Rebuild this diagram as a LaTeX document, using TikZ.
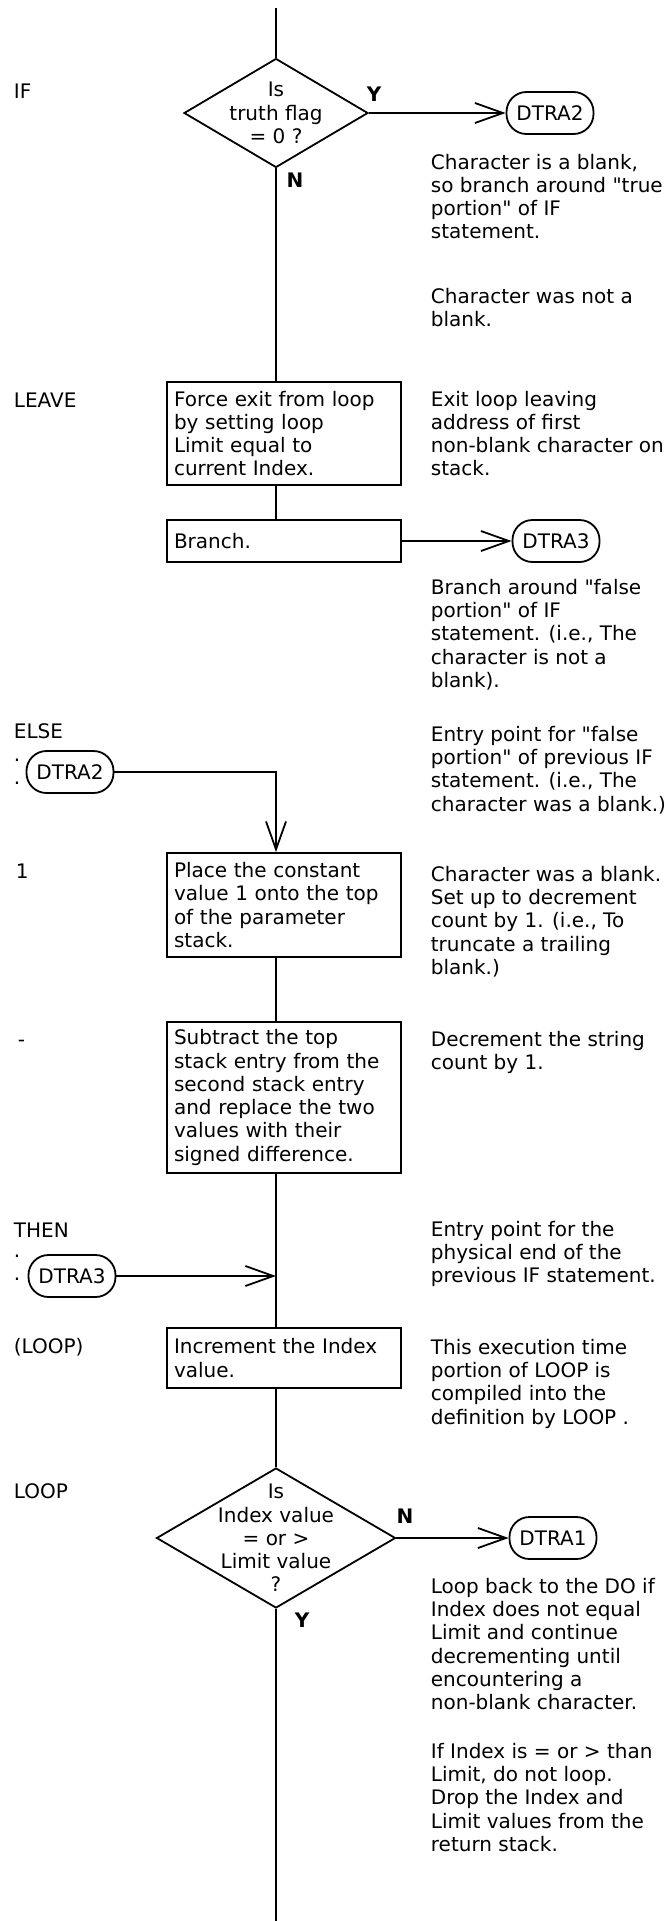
\documentclass[tikz,border=0pt]{standalone}
\usepackage{fontspec}
\setmainfont{DejaVu Sans}
\usetikzlibrary{positioning,shapes.geometric,arrows.meta}
\newcommand{\dq}{\textquotedbl{}}

\begin{document}
\begin{tikzpicture}[x=1pt,y=1pt,line width=1.8pt,>={Straight Barb[length=28pt,width=20pt]},
  font=\fontsize{20}{23.3}\selectfont,
  stepbox/.style={draw, text width=220pt, align=left, inner xsep=7pt, inner ysep=4pt},
  decision/.style={draw, diamond, inner sep=0pt},
  exitpt/.style={draw, rounded corners=20pt, minimum width=87pt, minimum height=42pt, inner sep=0pt},
  note/.style={anchor=north west, align=left, inner sep=0pt},
  word/.style={anchor=base west, inner sep=0pt},
  yn/.style={font=\fontsize{20}{23.3}\selectfont\bfseries, inner sep=0pt}]
  \path[use as bounding box, fill=white] (0,0) rectangle (666,-1921);

  \coordinate (top) at (276,-8);
  \coordinate (bottom) at (276,-1921);

  \node (d1) [decision, minimum width=184pt, minimum height=109pt,
    label={[align=center, inner sep=0pt]center:{Is\\truth flag\\= 0 ?}}] at (276,-113) {};
  \node (leave) [stepbox, minimum height=103pt] at (284,-433.5) {Force exit from loop\\by setting loop\\Limit equal to\\current Index.};
  \node (branch) [stepbox, minimum height=42pt] at (284,-541) {Branch.};
  \node (one) [stepbox, minimum height=104pt] at (284,-905) {Place the constant\\value 1 onto the top\\of the parameter\\stack.};
  \node (minus) [stepbox, minimum height=151pt] at (284,-1097.5) {Subtract the top\\stack entry from the\\second stack entry\\and replace the two\\values with their\\signed difference.};
  \node (incr) [stepbox, minimum height=60pt] at (284,-1358) {Increment the Index\\value.};
  \node (d2) [decision, minimum width=239pt, minimum height=140pt,
    label={[align=center, inner sep=0pt]center:{Is\\Index value\\= or >\\Limit value\\?}}] at (276,-1538) {};

  \node (dtraTwo) [exitpt] at (550,-113) {DTRA2};
  \node (dtraThree) [exitpt] at (556,-541) {DTRA3};
  \node (elseIn) [exitpt] at (70,-772) {DTRA2};
  \node (thenIn) [exitpt] at (72,-1276) {DTRA3};
  \node (dtraOne) [exitpt] at (553,-1538) {DTRA1};
  \node (elseDots) [align=left, inner sep=0pt] at (17,-772) {.\\.};
  \node (thenDots) [align=left, inner sep=0pt] at (17,-1268) {.\\.};

  \node (yesOne) [yn] at (374,-94) {Y};
  \node (noOne) [yn] at (295,-180) {N};
  \node (noTwo) [yn] at (405,-1516) {N};
  \node (yesTwo) [yn] at (302,-1620) {Y};

  \node (wIf) [word] at (13,-99) {IF};
  \node (wLeave) [word] at (13,-407) {LEAVE};
  \node (wElse) [word] at (13,-738) {ELSE};
  \node (wOne) [word] at (15,-878) {1};
  \node (wMinus) [word] at (17,-1046) {-};
  \node (wThen) [word] at (13,-1237) {THEN};
  \node (wLoopRt) [word] at (13,-1353) {(LOOP)};
  \node (wLoop) [word] at (13,-1498) {LOOP};

  \node (nBlank) [note] at (430,-153) {Character is a blank,\\so branch around \dq true\\portion\dq\ of IF\\statement.};
  \node (nNotBlank) [note] at (430,-287) {Character was not a\\blank.};
  \node (nExit) [note] at (430,-390) {Exit loop leaving\\address of first\\non-blank character on\\stack.};
  \node (nBranch) [note] at (430,-578) {Branch around \dq false\\portion\dq\ of IF\\statement. (i.e., The\\character is not a\\blank).};
  \node (nElse) [note] at (430,-725) {Entry point for \dq false\\portion\dq\ of previous IF\\statement. (i.e., The\\character was a blank.)};
  \node (nOne) [note] at (430,-865) {Character was a blank.\\Set up to decrement\\count by 1. (i.e., To\\truncate a trailing\\blank.)};
  \node (nMinus) [note] at (430,-1030) {Decrement the string\\count by 1.};
  \node (nThen) [note] at (430,-1220) {Entry point for the\\physical end of the\\previous IF statement.};
  \node (nIncr) [note] at (430,-1338) {This execution time\\portion of LOOP is\\compiled into the\\definition by LOOP .};
  \node (nBack) [note] at (430,-1577) {Loop back to the DO if\\Index does not equal\\Limit and continue\\decrementing until\\encountering a\\non-blank character.};
  \node (nDrop) [note] at (430,-1742) {If Index is = or > than\\Limit, do not loop.\\Drop the Index and\\Limit values from the\\return stack.};

  \draw (top) -- (d1.north);
  \draw (d1.south) -- (d1.south |- leave.north);
  \draw (d1.south |- leave.south) -- (d1.south |- branch.north);
  \draw[->] (d1.east) -- (dtraTwo.west);
  \draw[->] (branch.east) -- (dtraThree.west);
  \draw[->] (elseIn.east) -| (d1.south |- one.north);
  \draw (d1.south |- one.south) -- (d1.south |- minus.north);
  \draw (d1.south |- minus.south) -- (d1.south |- incr.north);
  \draw[->] (thenIn.east) -- (thenIn.east -| d1.south);
  \draw (d1.south |- incr.south) -- (d2.north);
  \draw[->] (d2.east) -- (dtraOne.west);
  \draw (d2.south) -- (bottom);
\end{tikzpicture}
\end{document}
